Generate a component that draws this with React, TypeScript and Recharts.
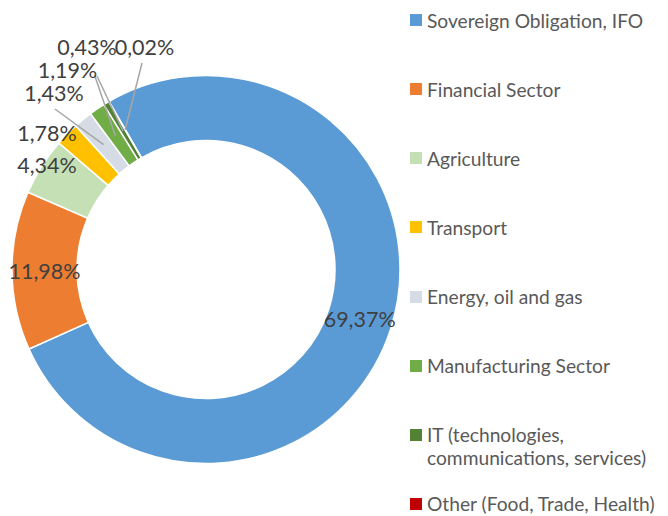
import React from 'react';
import { PieChart, Pie, Cell } from 'recharts';

const categories = [
  'Sovereign Obligation, IFO',
  'Financial Sector',
  'Agriculture',
  'Transport',
  'Energy, oil and gas',
  'Manufacturing Sector',
  'IT (technologies, communications, services)',
  'Other (Food, Trade, Health)',
];
const shares = [69.37, 11.98, 4.34, 1.78, 1.43, 1.19, 0.43, 0.02];
const colors = ['#5B9BD5', '#ED7D31', '#C5E0B4', '#FFC000', '#D6DCE5', '#70AD47', '#548235', '#C00000'];

const data = categories.map((name, i) => ({ name, value: shares[i] }));

const FONT = 'Lato, "Open Sans", sans-serif';
const CX = 206;
const CY = 269.5;
const INNER = 129;
const OUTER = 194;
const RAD = Math.PI / 180;

// label spots for the thin slices (offset from pie centre), plus where the leader starts
const labelSpots: ({ dx: number; dy: number; lx?: number; ly?: number } | null)[] = [
  null,
  null,
  { dx: -159, dy: -104.5 },
  { dx: -159, dy: -136.5 },
  { dx: -152, dy: -176.5, lx: 1, ly: 16 },
  { dx: -138.5, dy: -199.5, lx: 27, ly: 5 },
  { dx: -119, dy: -222.5, lx: 10, ly: 29 },
  { dx: -61.5, dy: -222.5, lx: -2.5, ly: 16 },
];

const fmt = (v: number) => v.toFixed(2).replace('.', ',') + '%';

const renderLabel = (props: any) => {
  const { midAngle, index, value } = props;
  const cx = props.cx ?? CX;
  const cy = props.cy ?? CY;
  const midR = (INNER + OUTER) / 2;
  const mx = cx + midR * Math.cos(-midAngle * RAD);
  const my = cy + midR * Math.sin(-midAngle * RAD);
  const spot = labelSpots[index];
  const tx = spot ? cx + spot.dx : mx;
  const ty = spot ? cy + spot.dy : my;
  return (
    <g key={`lbl-${index}`}>
      {spot && spot.lx !== undefined && (
        <line x1={tx + spot.lx} y1={ty + (spot.ly ?? 0)} x2={mx} y2={my} stroke="#A6A6A6" strokeWidth={1.5} />
      )}
      <text x={tx} y={ty} fill="#404040" fontSize={21.5} fontFamily={FONT} textAnchor="middle" dominantBaseline="central">
        {fmt(value)}
      </text>
    </g>
  );
};

const LegendBlock = () => (
  <div style={{ position: 'absolute', left: 410, top: 8.5, width: 258, fontFamily: FONT, fontSize: 19.2, color: '#595959' }}>
    {categories.map((c, i) => (
      <div key={c} style={{ height: 69.14, display: 'flex', alignItems: 'flex-start' }}>
        <div style={{ width: 12, height: 12, background: colors[i], marginTop: 5.5, marginRight: 5, flexShrink: 0 }} />
        <div style={{ lineHeight: '23px', width: 245 }}>{c}</div>
      </div>
    ))}
  </div>
);

export default function App() {
  return (
    <div style={{ position: 'absolute', left: 0, top: 0, width: 668, height: 516, background: '#fff' }}>
      <PieChart width={668} height={516} margin={{ top: 0, right: 0, bottom: 0, left: 0 }}>
        <Pie
          data={data}
          dataKey="value"
          cx={CX}
          cy={CY}
          innerRadius={INNER}
          outerRadius={OUTER}
          startAngle={120}
          endAngle={-240}
          stroke="#fff"
          strokeWidth={1.5}
          label={renderLabel}
          labelLine={false}
          isAnimationActive={false}
        >
          {data.map((d, i) => (
            <Cell key={d.name} fill={colors[i]} />
          ))}
        </Pie>
      </PieChart>
      <LegendBlock />
    </div>
  );
}
